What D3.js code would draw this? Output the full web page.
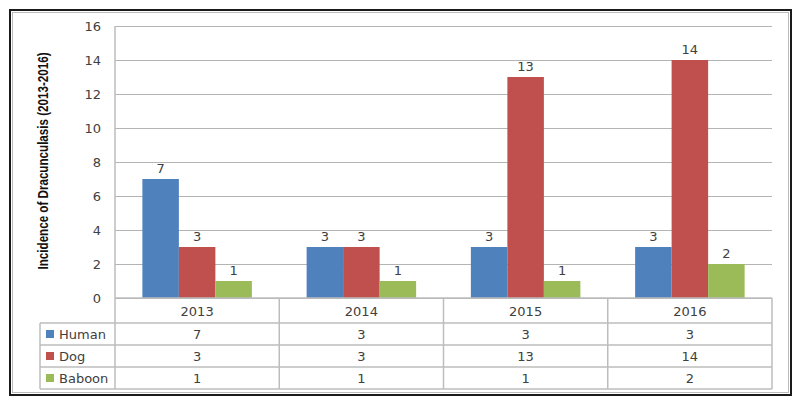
<!DOCTYPE html>
<html>
<head>
<meta charset="utf-8">
<script src="https://cdn.jsdelivr.net/npm/d3@7"></script>
<style>
  body { margin: 0; background: #fff; }
  svg text { font-family: "DejaVu Sans", Verdana, sans-serif; fill: #404040; }
</style>
</head>
<body>
<script>
'use strict';

// chart data
const years = ['2013', '2014', '2015', '2016'];
const seriesNames = ['Human', 'Dog', 'Baboon'];
const human = [7, 3, 3, 3];
const dog = [3, 3, 13, 14];
const baboon = [1, 1, 1, 2];
const yTicks = [0, 2, 4, 6, 8, 10, 12, 14, 16];
const colors = ['#4F81BD', '#C0504D', '#9BBB59'];
const yLabel = 'Incidence of Dracunculasis (2013-2016)';

(function() {
  const values = [human, dog, baboon];

  const svg = d3.select('body').append('svg')
    .attr('width', 800)
    .attr('height', 406);

  // outer frame
  svg.append('rect')
    .attr('x', 10).attr('y', 10)
    .attr('width', 781).attr('height', 385)
    .attr('fill', '#fff')
    .attr('stroke', '#1a1a1a')
    .attr('stroke-width', 2);
  svg.append('rect')
    .attr('x', 12.5).attr('y', 12.5)
    .attr('width', 776).attr('height', 380)
    .attr('fill', 'none')
    .attr('stroke', '#bbb')
    .attr('stroke-width', 1);

  // scales
  const x = d3.scaleBand().domain(years).range([115, 772]);
  const y = d3.scaleLinear().domain([0, 16]).range([298, 26]);
  const bw = x.bandwidth() / 4.5;
  const xs = d3.scaleBand().domain(seriesNames)
    .range([0.75 * bw, 3.75 * bw]);

  // gridlines
  svg.append('g').selectAll('line')
    .data(yTicks)
    .enter().append('line')
      .attr('x1', 115).attr('x2', 772)
      .attr('y1', (d) => Math.round(y(d)) + 0.5)
      .attr('y2', (d) => Math.round(y(d)) + 0.5)
      .attr('stroke', '#b4b4b4');

  // y tick labels
  svg.append('g').selectAll('text')
    .data(yTicks)
    .enter().append('text')
      .attr('x', 101)
      .attr('y', (d) => y(d) + 4.5)
      .attr('text-anchor', 'end')
      .style('font-size', '13px')
      .text((d) => d);

  // y axis title (narrow bold look, squeezed to the reference length)
  svg.append('text')
    .attr('transform', 'translate(48, 161)rotate(-90)')
    .attr('text-anchor', 'middle')
    .attr('textLength', 217)
    .attr('lengthAdjust', 'spacingAndGlyphs')
    .style('font-family', '"Liberation Sans Narrow", "Liberation Sans", Arial, sans-serif')
    .style('font-weight', 'bold')
    .style('font-size', '14.5px')
    .style('fill', '#111')
    .text(yLabel);

  // bars and labels
  seriesNames.forEach((name, i) => {
    const g = svg.append('g');
    g.selectAll('rect')
      .data(years)
      .enter().append('rect')
        .attr('x', (d) => x(d) + xs(name))
        .attr('y', (d, j) => y(values[i][j]))
        .attr('width', xs.bandwidth())
        .attr('height', (d, j) => y(0) - y(values[i][j]))
        .attr('fill', colors[i]);
    g.selectAll('text')
      .data(years)
      .enter().append('text')
        .attr('x', (d) => x(d) + xs(name) + xs.bandwidth() / 2)
        .attr('y', (d, j) => y(values[i][j]) - 6)
        .attr('text-anchor', 'middle')
        .style('font-size', '13px')
        .text((d, j) => values[i][j]);
  });

  // data table
  const rowTops = [298, 323, 345, 367, 389];
  const tbl = svg.append('g')
    .attr('stroke', '#bdbdbd')
    .attr('stroke-width', 1.5);
  // horizontal lines
  rowTops.forEach((ry, k) => {
    tbl.append('line')
      .attr('x1', k === 0 ? 115 : 40).attr('x2', 772)
      .attr('y1', ry).attr('y2', ry);
  });
  // vertical lines
  x.domain().concat(['end']).forEach((d, k) => {
    const vx = k < years.length ? x(d) : 772;
    tbl.append('line')
      .attr('x1', vx).attr('x2', vx)
      .attr('y1', k === 0 ? 26 : 298).attr('y2', 389);
  });
  tbl.append('line')
    .attr('x1', 40).attr('x2', 40)
    .attr('y1', 323).attr('y2', 389);

  // category labels
  svg.append('g').selectAll('text')
    .data(years)
    .enter().append('text')
      .attr('x', (d) => x(d) + x.bandwidth() / 2)
      .attr('y', 316)
      .attr('text-anchor', 'middle')
      .style('font-size', '13px')
      .text((d) => d);

  // table rows
  seriesNames.forEach((name, i) => {
    const top = rowTops[i + 1];
    const mid = (top + rowTops[i + 2]) / 2;
    svg.append('rect')
      .attr('x', 46).attr('y', mid - 4)
      .attr('width', 8).attr('height', 8)
      .attr('fill', colors[i]);
    svg.append('text')
      .attr('x', 59).attr('y', mid + 5)
      .style('font-size', '13px')
      .text(name);
    svg.append('g').selectAll('text')
      .data(years)
      .enter().append('text')
        .attr('x', (d) => x(d) + x.bandwidth() / 2)
        .attr('y', mid + 5)
        .attr('text-anchor', 'middle')
        .style('font-size', '13px')
        .text((d, j) => values[i][j]);
  });
})();
</script>
</body>
</html>
